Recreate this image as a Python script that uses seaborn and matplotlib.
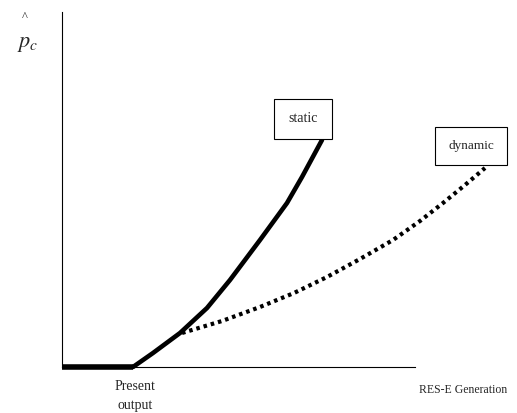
import pandas as pd
import matplotlib.pyplot as plt
import seaborn as sns

# curve points (x: generation, y: price), in pixel-ish units
base_x = [0, 71]
base_y = [0, 0]

static_x = [71, 91, 118, 145, 168, 198, 225, 240, 260]
static_y = [0, 14, 34, 59, 87, 127, 164, 190, 227]

dynamic_x = [120, 160, 198, 232, 265, 298, 331, 358, 381, 403, 423]
dynamic_y = [34, 46, 60, 74, 90, 108, 127, 146, 164, 182, 199]

present_x = 73


def main():
    sns.set_style("white")
    plt.rcParams["font.family"] = ["Liberation Serif", "DejaVu Serif"]
    plt.rcParams["mathtext.fontset"] = "stix"

    fig = plt.figure(figsize=(5.17, 4.13), dpi=100)
    ax = fig.add_axes([62 / 517, 46 / 413, 448 / 517, 355 / 413])

    static_df = pd.DataFrame({"x": static_x, "y": static_y})
    dynamic_df = pd.DataFrame({"x": dynamic_x, "y": dynamic_y})
    base_df = pd.DataFrame({"x": base_x, "y": base_y})

    sns.lineplot(data=base_df, x="x", y="y", color="black", linewidth=4.0,
                 ax=ax, clip_on=False, solid_capstyle="butt")
    sns.lineplot(data=static_df, x="x", y="y", color="black", linewidth=3.3,
                 ax=ax, clip_on=False, sort=False, solid_joinstyle="round")
    sns.lineplot(data=dynamic_df, x="x", y="y", color="black", linewidth=3.0,
                 ax=ax, clip_on=False, sort=False, linestyle=(0, (0.85, 0.95)),
                 dash_capstyle="butt")

    ax.set_xlim(0, 448)
    ax.set_ylim(0, 355)
    ax.set_xticks([])
    ax.set_yticks([])
    ax.set_xlabel("")
    ax.set_ylabel("")
    for s in ["top", "right"]:
        ax.spines[s].set_visible(False)
    for s in ["left", "bottom"]:
        ax.spines[s].set_color("black")
        ax.spines[s].set_linewidth(0.8)
    ax.spines["bottom"].set_bounds(0, 353)

    # labels in the boxes
    box = dict(boxstyle="square,pad=1.0", facecolor="white", edgecolor="black", linewidth=0.8)
    ax.text(241, 248, "static", ha="center", va="center", fontsize=10, bbox=box, zorder=5)
    ax.text(409, 221, "dynamic", ha="center", va="center", fontsize=9.5, bbox=box, zorder=5)

    # axis annotations
    ax.text(present_x, -19, "Present", ha="center", va="center", fontsize=10, clip_on=False)
    ax.text(present_x, -38, "output", ha="center", va="center", fontsize=10, clip_on=False)
    ax.text(357, -23, "RES-E Generation", ha="left", va="center", fontsize=8.5, clip_on=False)

    fig.text(25 / 517, 1 - 17 / 413, "^", ha="center", va="center", fontsize=9)
    fig.text(28 / 517, 1 - 44 / 413, r"$p_c$", ha="center", va="center", fontsize=16)

    fig.savefig("out.png", dpi=100)
    plt.close(fig)


if __name__ == "__main__":
    main()
